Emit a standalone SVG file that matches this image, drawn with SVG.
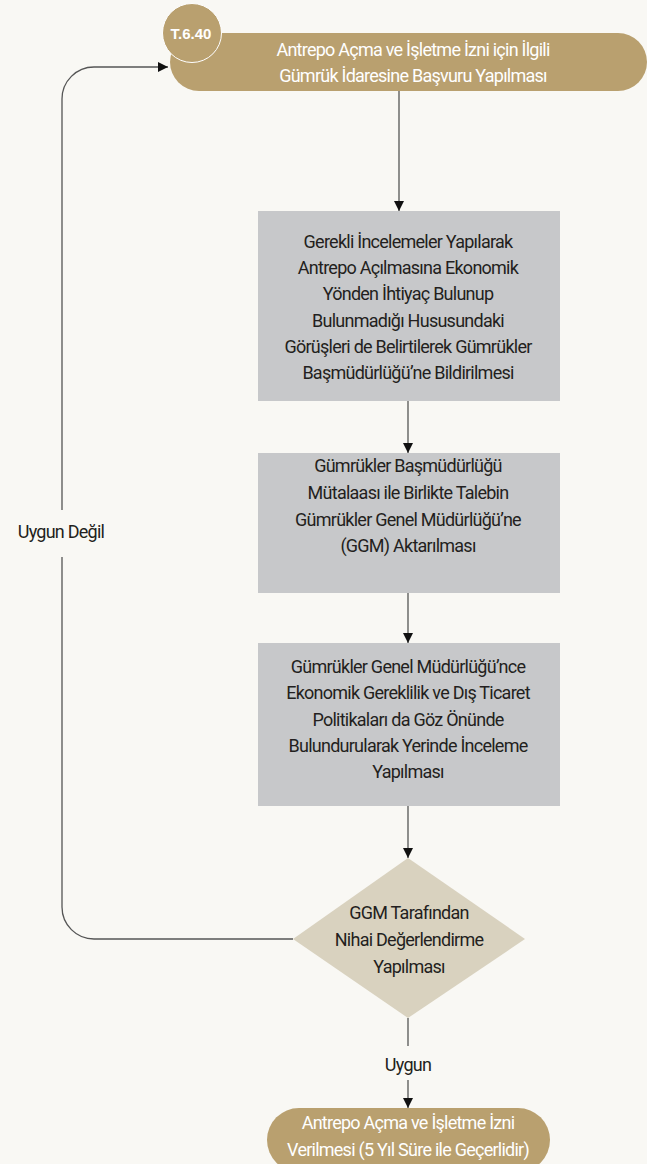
<svg xmlns="http://www.w3.org/2000/svg" width="647" height="1164" viewBox="0 0 647 1164">
<defs>
<style>
.t{font-family:"Liberation Sans Narrow","Roboto",sans-serif;font-size:18px;fill:#231f20;text-anchor:middle;letter-spacing:-0.75px}
.w{fill:#ffffff}
.gold{fill:#b9a06f}
.box{fill:#c7c8ca}
.dia{fill:#d9d2bf}
.ln{fill:none;stroke:#555;stroke-width:1.3}
</style>
<marker id="ah" viewBox="0 0 10 10" refX="10" refY="5" markerWidth="10" markerHeight="10" markerUnits="userSpaceOnUse" orient="auto">
<path d="M0,0 L10,5 L0,10 z" fill="#111"/>
</marker>
</defs>
<rect width="647" height="1164" fill="#f9f8f4"/>
<g id="connectors">
<path class="ln" d="M399,91 V211" marker-end="url(#ah)"/>
<path class="ln" d="M408,401 V453" marker-end="url(#ah)"/>
<path class="ln" d="M408,593 V643" marker-end="url(#ah)"/>
<path class="ln" d="M408,806 V858" marker-end="url(#ah)"/>
<path class="ln" d="M408,1018 V1046"/>
<path class="ln" d="M408,1080 V1108" marker-end="url(#ah)"/>
<path class="ln" d="M293,939 H94 A32,32 0 0 1 62,907 V557"/>
<path class="ln" d="M62,510 V99 A32,32 0 0 1 94,67 H168" marker-end="url(#ah)"/>
<text class="t" x="408" y="1071">Uygun</text>
<text class="t" x="61" y="538">Uygun Değil</text>
</g>
<g id="start">
<rect class="gold" x="170" y="33" width="477" height="58" rx="29"/>
<text class="t w" x="413" y="56">Antrepo Açma ve İşletme İzni için İlgili</text>
<text class="t w" x="413" y="82">Gümrük İdaresine Başvuru Yapılması</text>
</g>
<g id="badge">
<circle class="gold" cx="192" cy="33" r="29.5" stroke="#fff" stroke-width="1"/>
<text x="191" y="39" style="font-family:'Liberation Sans',sans-serif;font-size:15px;font-weight:bold;fill:#fff;text-anchor:middle">T.6.40</text>
</g>
<g id="box1">
<rect class="box" x="258" y="211" width="302" height="190"/>
<text class="t" x="408" y="248">Gerekli İncelemeler Yapılarak</text>
<text class="t" x="408" y="274">Antrepo Açılmasına Ekonomik</text>
<text class="t" x="408" y="300">Yönden İhtiyaç Bulunup</text>
<text class="t" x="408" y="327">Bulunmadığı Hususundaki</text>
<text class="t" x="408" y="353">Görüşleri de Belirtilerek Gümrükler</text>
<text class="t" x="408" y="379">Başmüdürlüğü’ne Bildirilmesi</text>
</g>
<g id="box2">
<rect class="box" x="258" y="453" width="302" height="140"/>
<text class="t" x="408" y="472">Gümrükler Başmüdürlüğü</text>
<text class="t" x="408" y="499">Mütalaası ile Birlikte Talebin</text>
<text class="t" x="408" y="526">Gümrükler Genel Müdürlüğü’ne</text>
<text class="t" x="408" y="552">(GGM) Aktarılması</text>
</g>
<g id="box3">
<rect class="box" x="258" y="643" width="302" height="163"/>
<text class="t" x="408" y="673">Gümrükler Genel Müdürlüğü’nce</text>
<text class="t" x="408" y="699">Ekonomik Gereklilik ve Dış Ticaret</text>
<text class="t" x="408" y="726">Politikaları da Göz Önünde</text>
<text class="t" x="408" y="752">Bulundurularak Yerinde İnceleme</text>
<text class="t" x="408" y="778">Yapılması</text>
</g>
<g id="decision">
<polygon class="dia" points="408,858 525,939 408,1018 293,939"/>
<text class="t" x="409" y="919">GGM Tarafından</text>
<text class="t" x="409" y="946">Nihai Değerlendirme</text>
<text class="t" x="409" y="973">Yapılması</text>
</g>
<g id="end">
<rect class="gold" x="267" y="1108" width="283" height="64" rx="32"/>
<text class="t w" x="408" y="1129">Antrepo Açma ve İşletme İzni</text>
<text class="t w" x="408" y="1156">Verilmesi (5 Yıl Süre ile Geçerlidir)</text>
</g>
</svg>
